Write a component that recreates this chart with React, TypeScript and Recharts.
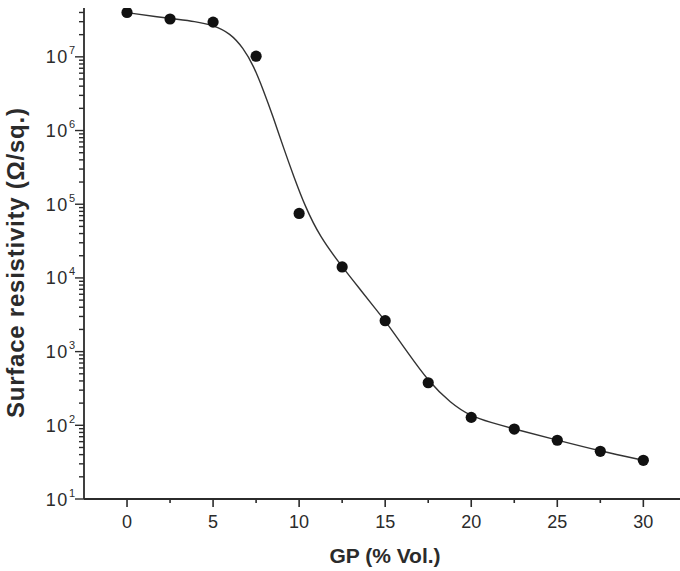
import React from 'react';
import { ComposedChart, Line, Scatter, XAxis, YAxis } from 'recharts';

// measured points
const gpContent = [0, 2.5, 5, 7.5, 10, 12.5, 15, 17.5, 20, 22.5, 25, 27.5, 30];
const resistivity = [4.0e7, 3.26e7, 2.96e7, 1.02e7, 7.5e4, 1.41e4, 2.63e3, 378, 128, 89, 62.7, 44.4, 33.5];

// fitted curve
const fitX = [0, 2.5, 4, 5, 6, 6.75, 7.35, 7.9, 8.5, 9.1, 9.7, 10.35, 11.2, 12.5, 13.7, 14.4, 15, 16.3, 17.5, 18.8, 20, 21.1, 22.5, 25, 27.5, 30];
const fitY = [3.98e7, 3.31e7, 3.02e7, 2.69e7, 2.09e7, 1.32e7, 7.6e6, 3.63e6, 1.51e6, 5.75e5, 2.34e5, 9.3e4, 3.63e4, 1.41e4, 6.3e3, 3.9e3, 2.63e3, 977, 398, 200, 132, 110, 89, 63, 44.7, 33.5];

const xTicks = [0, 2.5, 5, 7.5, 10, 12.5, 15, 17.5, 20, 22.5, 25, 27.5, 30];
const xLabels = ['0', '5', '10', '15', '20', '25', '30'];
const decades = [10, 100, 1e3, 1e4, 1e5, 1e6, 1e7];
const minorSteps = [1, 2, 3, 4, 5, 6, 7, 8, 9];

const yMax = 4.6e7;
const yTicks = decades.flatMap((d) => minorSteps.map((m) => m * d)).filter((v) => v <= yMax);

const points = gpContent.map((x, i) => ({ x, y: resistivity[i] }));
const fit = fitX.map((x, i) => ({ x, y: fitY[i] }));

const AXIS_X = 84;
const AXIS_Y = 499;
const ink = '#2b2b2b';
const font = '"Liberation Sans", Arial, sans-serif';

const XTick = (props: any) => {
  const { x, payload } = props;
  const v = payload.value;
  const major = xLabels.includes(String(v));
  return (
    <g>
      <line x1={x} x2={x} y1={AXIS_Y} y2={AXIS_Y + (major ? 8 : 4)} stroke={ink} strokeWidth={1.6} />
      {major && (
        <text x={x} y={528} textAnchor="middle" fontSize={18} fill={ink} fontFamily={font}>
          {v}
        </text>
      )}
    </g>
  );
};

const YTick = (props: any) => {
  const { y, payload } = props;
  const v = payload.value;
  const exp = Math.round(Math.log10(v));
  const major = Math.abs(Math.log10(v) - exp) < 1e-6;
  return (
    <g>
      <line x1={AXIS_X - (major ? 9 : 5)} x2={AXIS_X} y1={y} y2={y} stroke={ink} strokeWidth={1.4} />
      {major && (
        <text x={75} y={y + 6.5} textAnchor="end" fontSize={18} fill={ink} fontFamily={font} letterSpacing={1.5}>
          10
          <tspan dy={-9} fontSize={11} letterSpacing={0}>
            {exp}
          </tspan>
        </text>
      )}
    </g>
  );
};

export default function App() {
  return (
    <div style={{ position: 'absolute', left: 0, top: 0, background: '#fff' }}>
      <ComposedChart width={680} height={571} margin={{ top: 8, right: 0, bottom: 0, left: 0 }}>
        <XAxis
          dataKey="x"
          type="number"
          domain={[-2.5, 32.13]}
          ticks={xTicks}
          interval={0}
          allowDataOverflow
          height={72}
          tickSize={0}
          tickMargin={0}
          tick={<XTick />}
          axisLine={{ stroke: ink, strokeWidth: 1.8 }}
          tickLine={false}
          label={{
            value: 'GP (% Vol.)',
            content: () => (
              <text x={385} y={563} textAnchor="middle" fontSize={21} fontWeight="bold" fill={ink} fontFamily={font}>
                GP (% Vol.)
              </text>
            ),
          }}
        />
        <YAxis
          dataKey="y"
          type="number"
          scale="log"
          domain={[10, yMax]}
          ticks={yTicks}
          interval={0}
          allowDataOverflow
          width={84}
          tickSize={0}
          tickMargin={0}
          tick={<YTick />}
          axisLine={{ stroke: ink, strokeWidth: 1.8 }}
          tickLine={false}
          label={{
            value: 'Surface resistivity (Ω/sq.)',
            content: () => (
              <text
                x={24}
                y={263}
                transform="rotate(-90 24 263)"
                textAnchor="middle"
                fontSize={24}
                fontWeight="bold"
                fill={ink}
                fontFamily={font}
                textLength={310}
                lengthAdjust="spacing"
              >
                Surface resistivity (Ω/sq.)
              </text>
            ),
          }}
        />
        <Line
          data={fit}
          dataKey="y"
          type="basis"
          stroke="#333"
          strokeWidth={1.4}
          dot={false}
          activeDot={false}
          isAnimationActive={false}
        />
        <Scatter
          data={points}
          dataKey="y"
          isAnimationActive={false}
          shape={(p: any) => <circle cx={p.cx} cy={p.cy} r={5.6} fill="#111" />}
        />
      </ComposedChart>
    </div>
  );
}
